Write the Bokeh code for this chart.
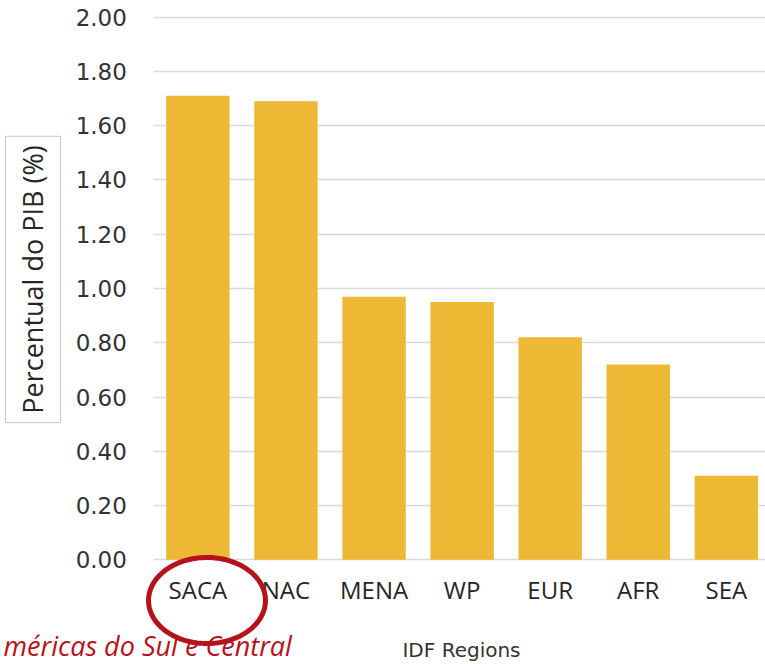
import numpy as np
from bokeh.plotting import figure
from bokeh.models import (ColumnDataSource, FixedTicker, Range1d, Label,
                          PolyAnnotation, NumeralTickFormatter)
from bokeh.embed import file_html
from bokeh.resources import INLINE

# ---- data ----
regions = ["SACA", "NAC", "MENA", "WP", "EUR", "AFR", "SEA"]
values = [1.71, 1.69, 0.97, 0.95, 0.82, 0.72, 0.31]
y_ticks = [0.0, 0.2, 0.4, 0.6, 0.8, 1.0, 1.2, 1.4, 1.6, 1.8, 2.0]
y_label = "Percentual do PIB (%)"
x_label = "IDF Regions"
note = "méricas do Sul e Central"

idx = list(range(len(regions)))
source = ColumnDataSource(dict(x=idx, top=values, region=regions))

X0, X1 = -2.2414, 6.4449
Y0, Y1 = -0.3859, 2.0615

p = figure(width=765, height=664, output_backend="svg", toolbar_location=None,
           x_range=Range1d(X0, X1), y_range=Range1d(Y0, Y1),
           min_border_left=0, min_border_right=0, min_border_top=0,
           min_border_bottom=0)
p.outline_line_color = None
p.background_fill_color = "white"
p.border_fill_color = "white"

# grid lines only across the plotting area
grid_ok = True
try:
    p.ygrid.cross_bounds = (-0.5, X1)
except Exception:
    grid_ok = False
p.xgrid.grid_line_color = None
if grid_ok:
    p.ygrid.grid_line_color = "#d9d9d9"
    p.ygrid.grid_line_width = 1.5
else:
    p.ygrid.grid_line_color = None
    p.segment(x0=[-0.5] * len(y_ticks), x1=[X1] * len(y_ticks),
              y0=y_ticks, y1=y_ticks, line_color="#d9d9d9", line_width=1.5)

p.vbar(x="x", top="top", width=0.72, source=source,
       fill_color="#EDB935", line_color=None)

# y axis
p.yaxis.fixed_location = -0.5
p.yaxis.ticker = FixedTicker(ticks=y_ticks)
p.yaxis.formatter = NumeralTickFormatter(format="0.00")
p.yaxis.axis_line_color = None
p.yaxis.major_tick_line_color = None
p.yaxis.minor_tick_line_color = None
p.yaxis.major_tick_out = 0
p.yaxis.major_tick_in = 0
p.yaxis.major_label_standoff = 27
p.yaxis.major_label_text_font = "DejaVu Sans"
p.yaxis.major_label_text_font_size = "23px"
p.yaxis.major_label_text_color = "#333333"

# x axis
p.xaxis.fixed_location = 0
p.xaxis.ticker = FixedTicker(ticks=idx)
p.xaxis.major_label_overrides = {i: r for i, r in zip(idx, regions)}
p.xaxis.axis_line_color = None
p.xaxis.major_tick_line_color = None
p.xaxis.minor_tick_line_color = None
p.xaxis.major_tick_out = 0
p.xaxis.major_tick_in = 0
p.xaxis.major_label_standoff = 13
p.xaxis.major_label_text_font = "Open Sans"
p.xaxis.major_label_text_font_size = "24px"
p.xaxis.major_label_text_color = "#262626"

# y-axis title in a bordered box
p.add_layout(Label(x=-1.8724, y=1.0332, text=y_label, angle=np.pi / 2,
                   text_align="center", text_baseline="middle",
                   text_font="Open Sans", text_font_size="27px",
                   text_color="#262626", background_fill_color="white",
                   border_line_color="#c8c8c8", border_line_width=1,
                   padding=9))

# x-axis title
p.add_layout(Label(x=2.993, y=-0.3336, text=x_label, text_align="center",
                   text_baseline="alphabetic", text_font="DejaVu Sans",
                   text_font_size="20px", text_color="#333333"))

# red annotation
t = np.linspace(0, 2 * np.pi, 160)
p.add_layout(PolyAnnotation(xs=list(0.1033 + 0.664 * np.cos(t)),
                            ys=list(-0.150 + 0.1585 * np.sin(t)),
                            fill_color=None, fill_alpha=0,
                            line_color="#B5121B", line_alpha=1.0,
                            line_width=5))
p.add_layout(Label(x=-2.2073, y=-0.3152, text=note, text_align="left",
                   text_baseline="alphabetic", text_font="Open Sans",
                   text_font_style="italic", text_font_size="27px",
                   text_color="#B5121B"))

open("out.html", "w").write(file_html(p, INLINE))
